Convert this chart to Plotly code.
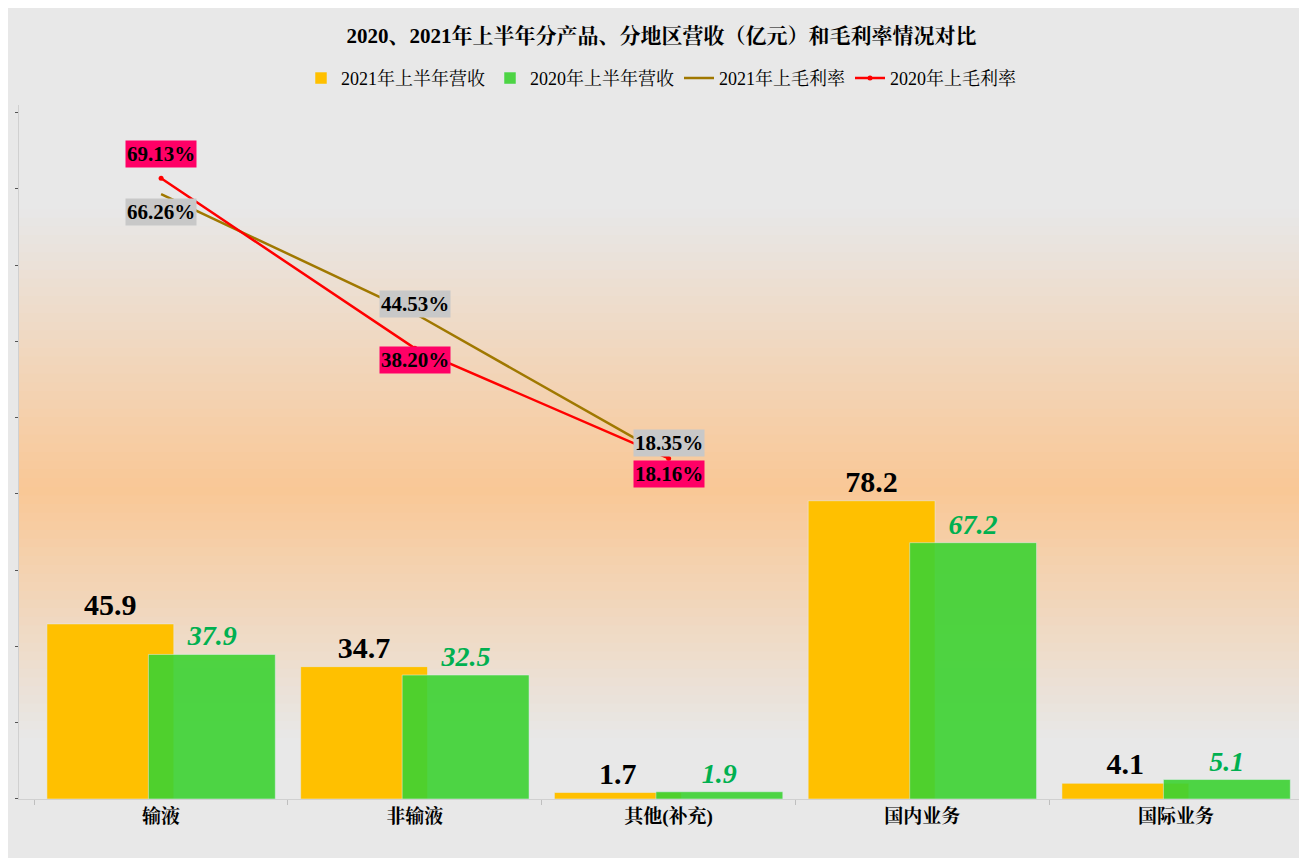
import plotly.graph_objects as go

categories = ["输液", "非输液", "其他(补充)", "国内业务", "国际业务"]
rev_2021 = [45.9, 34.7, 1.7, 78.2, 4.1]
rev_2020 = [37.9, 32.5, 1.9, 67.2, 5.1]
line_cats = ["输液", "非输液", "其他(补充)"]
gm_2021 = [66.26, 44.53, 18.35]
gm_2020 = [69.13, 38.20, 18.16]

font = "Times New Roman, Liberation Serif, Noto Serif CJK SC, serif"

fig = go.Figure()
fig.add_trace(go.Bar(x=categories, y=rev_2021, name="2021年上半年营收", marker_color="#FFC000",
                     width=0.5, offset=-0.45, text=[f"<b>{v}</b>" for v in rev_2021], textposition="outside",
                     textfont=dict(size=30, color="black", family=font), cliponaxis=False))
fig.add_trace(go.Bar(x=categories, y=rev_2020, name="2020年上半年营收", marker_color="rgba(60,210,50,0.9)",
                     width=0.5, offset=-0.05, text=[f"<b><i>{v}</i></b>" for v in rev_2020],
                     textposition="outside",
                     textfont=dict(size=28, color="#00B050", family=font), cliponaxis=False))
fig.add_trace(go.Scatter(x=line_cats, y=gm_2021, name="2021年上毛利率", mode="lines",
                         line=dict(color="#A07800", width=2.5), yaxis="y2"))
fig.add_trace(go.Scatter(x=line_cats, y=gm_2020, name="2020年上毛利率", mode="lines+markers",
                         line=dict(color="#FF0000", width=2.5), marker=dict(size=5), yaxis="y2"))

# gradient background: gray at top, orange around the middle, gray at bottom
n = 80
for i in range(n):
    t = i / n  # 0 = bottom
    d = abs(t - 0.44)
    w = max(0.0, 1 - d / (0.40 if t > 0.44 else 0.36))
    r = int(232 + (250 - 232) * w)
    g = int(232 + (200 - 232) * w)
    b = int(232 + (150 - 232) * w)
    fig.add_shape(type="rect", xref="paper", yref="paper", x0=0, x1=1,
                  y0=t, y1=t + 1 / n + 0.002, fillcolor=f"rgb({r},{g},{b})",
                  line_width=0, layer="below")

shifts_2021 = [-18, 10, 14]
shifts_2020 = [24, -12, -16]
for i, v in enumerate(gm_2021):
    fig.add_annotation(x=line_cats[i], y=v, yref="y2", text=f"<b>{v:.2f}%</b>", showarrow=False,
                       bgcolor="#C8C8C8", font=dict(size=21, color="black", family=font),
                       yshift=shifts_2021[i])
for i, v in enumerate(gm_2020):
    fig.add_annotation(x=line_cats[i], y=v, yref="y2", text=f"<b>{v:.2f}%</b>", showarrow=False,
                       bgcolor="#FF0066", font=dict(size=21, color="black", family=font),
                       yshift=shifts_2020[i])

fig.update_layout(
    width=1307, height=858,
    margin=dict(l=8, r=12, t=93, b=67),
    paper_bgcolor="#E8E8E8", plot_bgcolor="rgba(0,0,0,0)",
    barmode="overlay",
    title=dict(text="<b>2020、2021年上半年分产品、分地区营收（亿元）和毛利率情况对比</b>",
               x=0.5, y=0.968, yref="container", yanchor="middle",
               font=dict(size=21, color="black", family=font)),
    legend=dict(orientation="h", x=0.5, xanchor="center", yref="container", y=0.918, yanchor="middle",
                font=dict(size=18, color="black", family=font), bgcolor="rgba(0,0,0,0)"),
    xaxis=dict(range=[-0.56, 4.5], tickson="boundaries", ticks="outside", ticklen=5,
               tickcolor="#BFBFBF", showline=True, linecolor="#D0D0D0", showgrid=False,
               tickfont=dict(size=19, color="black", family=font),
               tickvals=categories, ticktext=[f"<b>{c}</b>" for c in categories]),
    yaxis=dict(range=[0, 182], showgrid=False, showticklabels=False, ticks="outside",
               ticklen=3, tickcolor="#555", dtick=20, zeroline=False, showline=True, linecolor="#D0D0D0"),
    yaxis2=dict(range=[-43.8, 82.5], overlaying="y", side="left", showgrid=False,
                showticklabels=False, zeroline=False),
)

fig.write_html("out.html")
